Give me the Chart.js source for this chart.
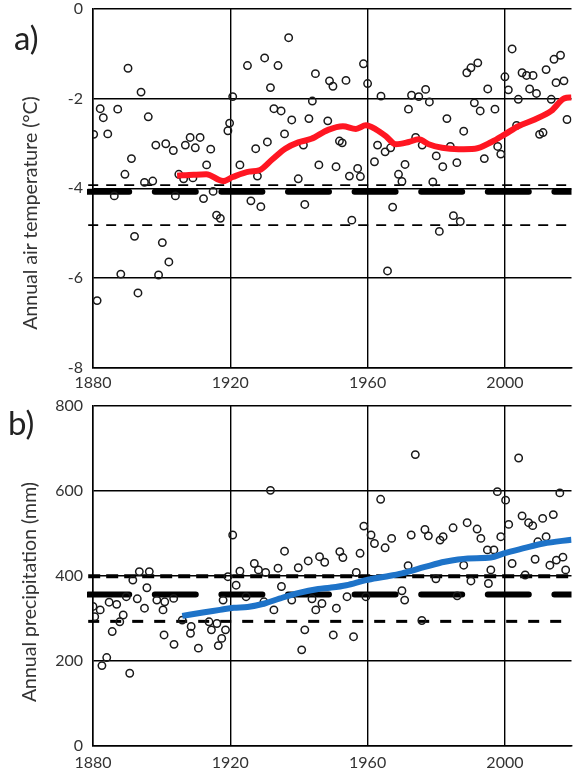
<!DOCTYPE html>
<html>
<head>
<meta charset="utf-8">
<script src="https://cdn.jsdelivr.net/npm/chart.js@4.4.1/dist/chart.umd.min.js"></script>
<style>
  body { margin: 0; background: #fff; width: 577px; height: 776px; overflow: hidden; position: relative; font-family: Lato, sans-serif; }
  .panel { position: absolute; left: 0; width: 577px; }
  #wrapA { top: 0; height: 390px; }
  #wrapB { top: 397px; height: 379px; }
  .tag { position: absolute; font-size: 33px; line-height: 1; color: #222; }
  .ytitle { position: absolute; white-space: nowrap; font-size: 19.5px; color: #333;
            transform: translate(-50%, -50%) rotate(-90deg); }
</style>
</head>
<body>
<div class="panel" id="wrapA"><canvas id="chartA" width="577" height="390"></canvas></div>
<div class="panel" id="wrapB"><canvas id="chartB" width="577" height="379"></canvas></div>
<div class="tag" style="left:14px; top:21px;">a)</div>
<div class="tag" style="left:8px; top:406px;">b)</div>
<div class="ytitle" style="left:29px; top:213px;">Annual air temperature (°C)</div>
<div class="ytitle" style="left:28px; top:592px;">Annual precipitation (mm)</div>

<script>
// axis ticks
const xTicks = [1880, 1920, 1960, 2000];
const tempTicks = [0, -2, -4, -6, -8];
const precTicks = [800, 600, 400, 200, 0];

// a) annual air temperature, one value per year
const tempYears = [1880.2, 1881.2, 1882.1, 1883.0, 1884.3, 1886.2, 1887.2, 1888.1, 1889.3, 1890.2,
  1891.2, 1892.1, 1893.1, 1894.0, 1895.0, 1896.1, 1897.4, 1898.3, 1899.1, 1900.2,
  1901.2, 1902.1, 1903.4, 1904.0, 1905.0, 1906.4, 1906.9, 1908.3, 1909.1, 1909.8,
  1911.2, 1912.2, 1913.1, 1914.3, 1915.0, 1916.0, 1917.1, 1919.3, 1919.8, 1920.7,
  1922.8, 1925.0, 1926.0, 1927.4, 1927.9, 1928.9, 1930.0, 1930.8, 1931.7, 1932.7,
  1933.9, 1934.8, 1935.8, 1937.0, 1937.9, 1939.8, 1941.3, 1941.7, 1942.9, 1943.9,
  1944.8, 1945.8, 1948.4, 1948.9, 1949.9, 1950.8, 1951.8, 1952.6, 1953.7, 1954.7,
  1955.4, 1957.1, 1957.9, 1958.8, 1960.0, 1962.0, 1962.9, 1963.9, 1965.1, 1965.8,
  1966.7, 1967.3, 1969.0, 1970.0, 1970.9, 1971.9, 1972.8, 1974.0, 1974.9, 1975.9,
  1976.9, 1978.0, 1979.0, 1980.0, 1980.9, 1981.9, 1983.1, 1984.1, 1985.0, 1986.0,
  1987.0, 1988.0, 1988.9, 1990.1, 1991.1, 1992.1, 1992.8, 1994.0, 1995.0, 1997.1,
  1997.9, 1998.8, 2000.0, 2001.0, 2002.1, 2003.4, 2003.9, 2005.0, 2006.3, 2007.2,
  2008.2, 2009.2, 2010.1, 2011.1, 2012.0, 2013.5, 2014.3, 2014.9, 2016.2, 2017.2, 2018.1];
const tempValues = [-2.80, -6.50, -2.23, -2.43, -2.79, -4.17, -2.24, -5.91, -3.69, -1.33,
  -3.34, -5.07, -6.33, -1.86, -3.87, -2.41, -3.84, -3.04, -5.93, -5.21,
  -3.01, -5.64, -3.16, -4.17, -3.69, -3.79, -3.04, -2.87, -3.77, -3.10,
  -2.87, -4.23, -3.48, -3.13, -4.07, -4.60, -4.67, -2.72, -2.55, -1.96,
  -3.48, -1.27, -4.28, -3.12, -3.73, -4.41, -1.10, -2.97, -1.76, -2.23,
  -1.27, -2.28, -2.79, -0.65, -2.48, -3.79, -3.04, -4.36, -2.45, -2.06,
  -1.45, -3.48, -2.50, -1.61, -1.73, -3.52, -2.95, -2.99, -1.60, -3.73,
  -4.71, -3.56, -3.74, -1.23, -1.67, -3.41, -3.04, -1.95, -3.19, -5.84,
  -3.10, -4.42, -3.69, -3.85, -3.47, -2.24, -1.93, -2.87, -1.96, -3.04,
  -1.80, -2.08, -3.86, -3.28, -4.96, -3.52, -2.45, -3.07, -4.61, -3.43,
  -4.74, -2.73, -1.43, -1.32, -2.10, -1.21, -2.28, -3.34, -1.79, -2.24,
  -3.07, -3.24, -1.52, -1.81, -0.90, -2.60, -2.02, -1.43, -1.49, -1.79,
  -1.49, -1.89, -2.80, -2.76, -1.36, -2.02, -1.13, -1.65, -1.04, -1.61, -2.47];

// a) smoothed trend (red)
const tempTrendYears = [1904.5, 1909.3, 1913, 1917.9, 1920.7, 1925.5, 1928.4, 1932.2, 1936, 1939.8,
  1943.6, 1948.5, 1952.8, 1956.6, 1959.5, 1962.4, 1965.3, 1968.2, 1972, 1974.9,
  1977.8, 1981.7, 1986.5, 1991.3, 1996.1, 2000, 2003.9, 2008.7, 2013.5, 2017.3, 2019.4];
const tempTrend = [-3.72, -3.70, -3.69, -3.84, -3.75, -3.63, -3.60, -3.36, -3.12, -2.98,
  -2.90, -2.70, -2.62, -2.68, -2.60, -2.69, -2.84, -3.02, -2.97, -2.91,
  -3.02, -3.10, -3.13, -3.12, -2.97, -2.80, -2.62, -2.47, -2.28, -2.00, -1.98];

// a) reference levels: mean (thick) and the two thin dashed lines
const tempMean = -4.08;
const tempUpper = -3.93;
const tempLower = -4.82;

// b) annual precipitation
const precYears = [1880.0, 1880.5, 1882.1, 1882.6, 1884.0, 1884.7, 1885.6, 1886.9, 1887.8, 1888.8,
  1889.7, 1890.7, 1891.6, 1892.9, 1893.5, 1895.0, 1895.7, 1896.4, 1898.6, 1900.4,
  1900.7, 1900.9, 1903.5, 1903.6, 1906.0, 1908.4, 1908.6, 1910.7, 1913.8, 1914.5,
  1916.1, 1916.5, 1917.5, 1917.9, 1918.6, 1919.3, 1920.7, 1921.7, 1922.8, 1924.6,
  1927.0, 1928.2, 1929.8, 1930.3, 1931.7, 1932.7, 1933.9, 1934.9, 1935.8, 1937.9,
  1939.8, 1940.8, 1941.7, 1942.7, 1943.8, 1944.9, 1946.0, 1946.7, 1947.5, 1950.0,
  1950.9, 1951.9, 1952.8, 1954.0, 1955.9, 1956.7, 1957.8, 1958.9, 1959.5, 1961.0,
  1962.0, 1963.8, 1965.1, 1967.0, 1970.0, 1970.8, 1971.8, 1972.7, 1973.9, 1975.8,
  1976.7, 1977.7, 1979.9, 1981.1, 1982.0, 1984.9, 1986.1, 1988.0, 1989.0, 1990.1,
  1991.9, 1993.0, 1994.9, 1995.2, 1995.9, 1996.8, 1997.8, 1998.8, 2000.2, 2001.1,
  2002.1, 2004.0, 2005.0, 2005.9, 2006.9, 2008.1, 2008.8, 2009.6, 2011.0, 2012.0,
  2013.1, 2014.1, 2015.0, 2016.0, 2016.9, 2017.7];
const precValues = [328, 304, 320, 189, 208, 338, 269, 333, 292, 308,
  351, 171, 390, 346, 410, 324, 372, 410, 343, 320,
  261, 339, 347, 239, 296, 265, 281, 230, 292, 273,
  288, 236, 253, 343, 273, 398, 496, 378, 411, 351,
  429, 414, 339, 408, 601, 320, 418, 375, 458, 343,
  419, 226, 273, 435, 346, 320, 445, 335, 432, 261,
  324, 457, 443, 351, 257, 408, 453, 517, 351, 496,
  476, 580, 466, 488, 365, 343, 424, 496, 685, 295,
  509, 494, 393, 484, 492, 513, 353, 425, 525, 388,
  510, 488, 461, 382, 414, 461, 598, 492, 578, 521,
  429, 677, 541, 402, 525, 518, 439, 480, 535, 492,
  425, 544, 437, 595, 444, 414];

// b) smoothed trend (blue)
const precTrendYears = [1906, 1912, 1917, 1921, 1925, 1930, 1934.5, 1940, 1945.6, 1949,
  1953.8, 1959.5, 1965, 1970, 1976.7, 1982.5, 1989.2, 1995.9, 1999.7, 2005.5, 2011.2, 2019.4];
const precTrend = [306, 314, 320, 325, 327, 335, 347, 360, 369, 372,
  378, 390, 398, 406, 421, 433, 441, 443, 453, 465, 476, 485];

// b) reference levels
const precMean = 356;
const precUpper = 399;
const precLower = 293;

const xMin = 1880, xMax = 2019.4, lineStart = 1878.6, lineEnd = 2021;

function pts(xs, ys) {
  return xs.map((x, i) => ({ x: x, y: ys[i] }));
}

function level(y, width, dash, cap) {
  return {
    type: 'line',
    data: [{ x: lineStart, y: y }, { x: lineEnd, y: y }],
    borderColor: '#000',
    borderWidth: width,
    borderDash: dash,
    borderCapStyle: cap || 'butt',
    pointRadius: 0,
    clip: { left: 6, top: 0, right: 0, bottom: 0 }
  };
}

function makeChart(id, opt) {
  const ctx = document.getElementById(id).getContext('2d');
  return new Chart(ctx, {
    type: 'scatter',
    data: {
      datasets: [
        {
          type: 'line',
          data: pts(opt.trendX, opt.trendY),
          borderColor: opt.trendColor,
          borderWidth: 6,
          pointRadius: 0,
          tension: 0.4,
          cubicInterpolationMode: 'monotone'
        },
        {
          data: pts(opt.years, opt.values),
          pointStyle: 'circle',
          pointRadius: 3.7,
          borderColor: '#1a1a1a',
          borderWidth: 1.5,
          backgroundColor: 'rgba(0,0,0,0)'
        },
        level(opt.mean, 6, [41, 25.6], 'round'),
        level(opt.upper, opt.upperWidth, opt.upperDash),
        level(opt.lower, opt.lowerWidth, opt.lowerDash)
      ]
    },
    options: {
      responsive: false,
      animation: false,
      devicePixelRatio: 1,
      layout: { padding: { top: opt.padTop, left: 0, right: 0, bottom: 0 } },
      plugins: { legend: { display: false }, tooltip: { enabled: false } },
      scales: {
        x: {
          type: 'linear',
          min: xMin,
          max: xMax,
          afterBuildTicks: (s) => { s.ticks = xTicks.map(v => ({ value: v })); },
          afterFit: (s) => { s.height = opt.xHeight; s.paddingLeft = 0; s.paddingRight = 0; },
          grid: { color: '#000', lineWidth: 1.4, drawTicks: false },
          border: { display: true, color: '#000', width: 1.5 },
          ticks: {
            padding: opt.xPad,
            color: '#333',
            font: { family: 'Lato', size: 16 },
            maxRotation: 0,
            callback: (v) => String(v)
          }
        },
        y: {
          min: opt.yTicks[opt.yTicks.length - 1],
          max: opt.yTicks[0],
          afterBuildTicks: (s) => { s.ticks = opt.yTicks.map(v => ({ value: v })); },
          afterFit: (s) => { s.width = 93; s.paddingTop = 0; s.paddingBottom = 0; },
          grid: { color: '#000', lineWidth: 1.4, drawTicks: false },
          border: { display: true, color: '#000', width: 1.5 },
          ticks: {
            padding: 10,
            color: '#333',
            font: { family: 'Lato', size: 16 },
            callback: (v) => String(v)
          }
        }
      }
    }
  });
}

makeChart('chartA', {
  years: tempYears, values: tempValues,
  trendX: tempTrendYears, trendY: tempTrend, trendColor: 'rgb(255,22,34)',
  mean: tempMean, upper: tempUpper, lower: tempLower,
  upperWidth: 1.6, upperDash: [10, 8], lowerWidth: 1.8, lowerDash: [10, 8],
  yTicks: tempTicks, padTop: 8.5, xHeight: 22, xPad: 5
});

makeChart('chartB', {
  years: precYears, values: precValues,
  trendX: precTrendYears, trendY: precTrend, trendColor: 'rgb(30,115,200)',
  mean: precMean, upper: precUpper, lower: precLower,
  upperWidth: 4, upperDash: [12, 6], lowerWidth: 3, lowerDash: [11, 11],
  yTicks: precTicks, padTop: 8.7, xHeight: 30, xPad: 7
});
</script>
</body>
</html>
